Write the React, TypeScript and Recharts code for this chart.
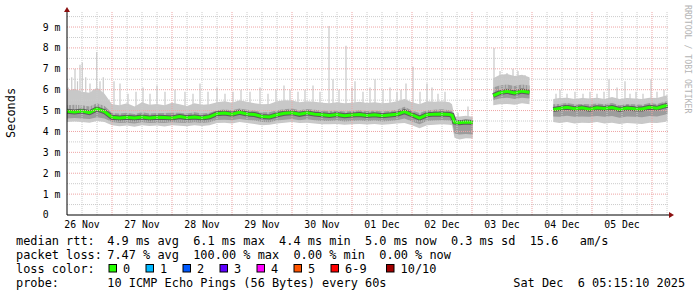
import React from 'react';
import {
  ComposedChart,
  Area,
  Line,
  XAxis,
  YAxis,
  ReferenceLine,
  ReferenceDot,
} from 'recharts';

// hours since 26 Nov 00:00
const hours = [
  6, 9, 12, 15, 18, 21,
  24, 27, 30, 33, 36, 39, 42, 45, 48, 51, 54, 57, 60, 63,
  66, 69, 72, 75, 78, 81, 84, 87, 90, 93, 96, 99, 102, 105, 108, 111,
  114, 117, 120, 123, 126, 129, 132, 135, 138, 141, 144, 147, 150, 153, 156, 159,
  160,
  161, 163, 165.5, 168.3,
  172,
  176.5, 179, 182, 185, 188, 191,
  196,
  200.5, 203, 206, 209, 212, 215, 218, 221, 224, 227, 230, 233, 236, 239, 242, 245, 246.2,
];

// median rtt in ms
const median = [
  4.97, 4.93, 4.98, 4.9, 5.08, 4.95,
  4.68, 4.65, 4.68, 4.64, 4.69, 4.65, 4.68, 4.67, 4.65, 4.71, 4.66, 4.69, 4.65, 4.7,
  4.85, 4.88, 4.83, 4.92, 4.84, 4.81, 4.72, 4.69, 4.8, 4.87, 4.9, 4.82, 4.89, 4.83, 4.8, 4.77,
  4.81, 4.75, 4.79, 4.81, 4.76, 4.8, 4.75, 4.79, 4.82, 4.95, 4.8, 4.64, 4.8, 4.83, 4.84, 4.81,
  4.78,
  4.45, 4.42, 4.45, 4.43,
  null,
  5.72, 5.85, 5.92, 5.84, 5.93, 5.88,
  null,
  5.05, 5.1, 5.16, 5.09, 5.13, 5.07, 5.13, 5.1, 5.15, 5.05, 5.12, 5.09, 5.08, 5.16, 5.11, 5.22, 5.25,
];

// outer smoke
const lightLo = [
  4.45, 4.48, 4.45, 4.42, 4.5, 4.45,
  4.3, 4.25, 4.28, 4.22, 4.3, 4.26, 4.28, 4.24, 4.3, 4.27, 4.25, 4.3, 4.26, 4.3,
  4.4, 4.42, 4.38, 4.45, 4.4, 4.36, 4.3, 4.32, 4.38, 4.42, 4.45, 4.4, 4.42, 4.38, 4.35, 4.34,
  4.36, 4.32, 4.35, 4.36, 4.33, 4.36, 4.32, 4.34, 4.38, 4.4, 4.3, 4.15, 4.3, 4.32, 4.35, 4.32,
  4.3,
  3.7, 3.62, 3.68, 3.66,
  null,
  5.25, 5.3, 5.32, 5.28, 5.35, 5.3,
  null,
  4.45, 4.4, 4.45, 4.38, 4.42, 4.4, 4.45, 4.38, 4.42, 4.36, 4.4, 4.38, 4.36, 4.42, 4.4, 4.45, 4.5,
];
const lightHi = [
  5.95, 6.05, 5.9, 5.85, 6.1, 5.8,
  5.3, 5.25, 5.35, 5.2, 5.4, 5.28, 5.32, 5.25, 5.38, 5.3, 5.22, 5.35, 5.28, 5.3,
  5.4, 5.45, 5.38, 5.5, 5.42, 5.35, 5.3, 5.32, 5.45, 5.5, 5.48, 5.4, 5.45, 5.42, 5.38, 5.35,
  5.4, 5.35, 5.38, 5.42, 5.36, 5.4, 5.35, 5.38, 5.45, 5.55, 5.4, 5.3, 5.45, 5.42, 5.45, 5.4,
  5.3,
  4.7, 4.72, 4.75, 4.7,
  null,
  6.55, 6.7, 6.75, 6.65, 6.72, 6.6,
  null,
  5.55, 5.6, 5.62, 5.55, 5.6, 5.58, 5.62, 5.55, 5.65, 5.55, 5.6, 5.58, 5.55, 5.62, 5.6, 5.7, 5.75,
];

// inner smoke
const darkLo = [
  4.62, 4.65, 4.62, 4.6, 4.68, 4.62,
  4.45, 4.4, 4.42, 4.38, 4.44, 4.4, 4.42, 4.4, 4.44, 4.42, 4.4, 4.44, 4.4, 4.44,
  4.55, 4.56, 4.54, 4.6, 4.55, 4.52, 4.45, 4.44, 4.52, 4.56, 4.6, 4.54, 4.58, 4.54, 4.5, 4.5,
  4.52, 4.48, 4.5, 4.52, 4.49, 4.52, 4.48, 4.5, 4.54, 4.62, 4.48, 4.35, 4.5, 4.52, 4.54, 4.52,
  4.48,
  3.9, 3.85, 3.88, 3.86,
  null,
  5.5, 5.58, 5.62, 5.56, 5.62, 5.58,
  null,
  4.72, 4.7, 4.75, 4.7, 4.72, 4.7, 4.74, 4.7, 4.74, 4.66, 4.72, 4.7, 4.68, 4.74, 4.72, 4.8, 4.85,
];
const darkHi = [
  5.25, 5.28, 5.25, 5.2, 5.35, 5.22,
  4.88, 4.86, 4.9, 4.84, 4.92, 4.86, 4.88, 4.88, 4.9, 4.9, 4.86, 4.92, 4.86, 4.9,
  5.02, 5.05, 5.02, 5.1, 5.04, 5.0, 4.92, 4.92, 5.02, 5.06, 5.1, 5.02, 5.08, 5.04, 5.0, 4.98,
  5.0, 4.96, 4.98, 5.02, 4.98, 5.0, 4.96, 4.98, 5.04, 5.18, 5.0, 4.88, 5.02, 5.04, 5.06, 5.02,
  4.98,
  4.55, 4.52, 4.56, 4.54,
  null,
  6.1, 6.2, 6.25, 6.18, 6.25, 6.2,
  null,
  5.3, 5.32, 5.36, 5.3, 5.32, 5.3, 5.34, 5.3, 5.36, 5.26, 5.32, 5.3, 5.28, 5.36, 5.32, 5.42, 5.45,
];

// single tall pings above the smoke
const spikeHours = [
  6.5, 7.9, 9.2, 10.2, 11.2, 12.1, 13.5, 15.2, 16.4, 17.9, 19.2, 20.5,
  24.8, 27.2, 30.4, 33.6, 36.4, 39.2, 42, 45.2, 49.2, 53.2, 56.4, 59.2, 62.4, 66, 69.2, 72.4,
  75.6, 79.2, 83.2, 86.4, 89.6, 92.8, 95.2, 98.4, 101.2, 104.4, 107.2, 110.8, 112.4, 114.8,
  117.6, 120, 121.2, 124.4, 127.2, 129.2, 132.4, 135.2, 138, 139.6, 141.6, 144.4, 147.2, 150,
  152, 154.4, 157.2,
  162.4, 166.4,
  176.8, 179.2, 180.8, 182, 184.4, 186.4, 188, 189.2, 190.4,
  201.6, 203.2, 206, 209.2, 212.4, 215.2, 218, 220.8, 222.8, 226, 229.2, 231.2, 233.6, 236.4,
  239.6, 242, 244.8,
];
const spikeTops = [
  6.1, 6.6, 7.0, 6.4, 7.2, 7.3, 6.6, 6.3, 6.0, 7.8, 6.4, 6.6,
  6.4, 6.3, 5.8, 5.9, 6.1, 5.8, 6.2, 5.9, 6.0, 5.9, 5.8, 6.3, 5.9, 6.1, 5.8, 5.9,
  6.0, 5.9, 6.1, 5.8, 6.0, 6.2, 6.0, 5.9, 6.0, 6.2, 5.9, 9.05, 6.5, 6.0,
  8.1, 6.1, 6.4, 5.9, 6.1, 6.5, 6.0, 6.1, 5.9, 6.0, 6.3, 7.1, 5.9, 6.3,
  6.1, 5.8, 5.9,
  4.9, 5.2,
  8.0, 6.9, 6.6, 6.8, 7.0, 6.9, 6.6, 6.7, 6.6,
  5.8, 6.0, 5.8, 5.9, 5.8, 5.9, 5.8, 5.9, 6.5, 6.1, 6.4, 5.8, 5.9, 5.8,
  6.5, 5.9, 6.0,
];

const dayTicks = [12, 36, 60, 84, 108, 132, 156, 180, 204, 228];
const dayLabels = ['26 Nov', '27 Nov', '28 Nov', '29 Nov', '30 Nov', '01 Dec', '02 Dec', '03 Dec', '04 Dec', '05 Dec'];
const midnights = [24, 48, 72, 96, 120, 144, 168, 192, 216, 240];
const sixHours = [
  12, 18, 30, 36, 42, 54, 60, 66, 78, 84, 90, 102, 108, 114, 126, 132, 138,
  150, 156, 162, 174, 180, 186, 198, 204, 210, 222, 228, 234, 246,
];
const yTicks = [0, 1, 2, 3, 4, 5, 6, 7, 8, 9];
const halfSteps = [0.5, 1.5, 2.5, 3.5, 4.5, 5.5, 6.5, 7.5, 8.5, 9.5];

const lossLabels = ['0', '1', '2', '3', '4', '5', '6-9', '10/10'];
const lossColors = ['#26ff00', '#00b8ff', '#0059ff', '#5e00ff', '#ff00ff', '#ff5500', '#ff0000', '#a10000'];
const lossBoxX = [108.5, 145.5, 182.5, 219.5, 256.5, 293.5, 330.5, 386];

const rttLine = '4.9 ms avg  6.1 ms max  4.4 ms min  5.0 ms now  0.3 ms sd  15.6   am/s';
const lossLine = '7.47 % avg  100.00 % max  0.00 % min  0.00 % now';
const probeLine = '10 ICMP Echo Pings (56 Bytes) every 60s';
const stamp = 'Sat Dec  6 05:15:10 2025';

const MONO = "'DejaVu Sans Mono', monospace";
const Y_MAX = 9.72;
const X_MIN = 6;
const X_MAX = 246.8;

const rows = hours.map((t, i) => ({
  t,
  med: median[i],
  light: median[i] == null ? null : [lightLo[i], lightHi[i]],
  dark: median[i] == null ? null : [darkLo[i], darkHi[i]],
}));

function spikeBase(t: number) {
  let best = 0;
  let dist = Infinity;
  rows.forEach((r, i) => {
    if (r.med == null) return;
    const d = Math.abs(r.t - t);
    if (d < dist) {
      dist = d;
      best = i;
    }
  });
  return median[best] as number;
}

const spikeData = spikeHours.flatMap((t, i) => [
  { t, v: spikeBase(t) },
  { t, v: spikeTops[i] },
  { t, v: null },
]);

const YTick = (props: any) => {
  const { x, y, payload } = props;
  const v = payload.value;
  return (
    <text x={x - 24.3} y={y} dy="0.355em" textAnchor="start" fontFamily={MONO} fontSize={9.8} fill="#000">
      {v === 0 ? '0' : `${v} m`}
    </text>
  );
};

const upArrow = (p: any) => (
  <path d={`M${p.cx - 3},${p.cy}L${p.cx + 3},${p.cy}L${p.cx},${p.cy - 5}Z`} fill="#8b1010" />
);
const rightArrow = (p: any) => (
  <path d={`M${p.cx},${p.cy - 3}L${p.cx},${p.cy + 3}L${p.cx + 5},${p.cy}Z`} fill="#8b1010" />
);

const pre = { whiteSpace: 'pre' as const };

export default function App() {
  return (
    <div style={{ position: 'relative', width: 697, height: 297, background: '#fff' }}>
      <style>{'body{margin:0}'}</style>
      <ComposedChart
        width={697}
        height={297}
        data={rows}
        margin={{ top: 12, right: 28, bottom: 0, left: 0 }}
      >
        <XAxis
          dataKey="t"
          type="number"
          domain={[X_MIN, X_MAX]}
          allowDataOverflow
          ticks={dayTicks}
          interval={0}
          tickFormatter={(v: number) => dayLabels[dayTicks.indexOf(v)]}
          tickLine={false}
          tickSize={0}
          tickMargin={6}
          height={82}
          axisLine={{ stroke: '#000' }}
          tick={{ fontFamily: MONO, fontSize: 9.8, fill: '#000' }}
        />
        <YAxis
          type="number"
          domain={[0, Y_MAX]}
          allowDataOverflow
          ticks={yTicks}
          interval={0}
          width={67}
          tickLine={false}
          tickSize={0}
          tickMargin={0}
          axisLine={{ stroke: '#000' }}
          tick={<YTick />}
        />
        <Line
          data={spikeData}
          dataKey="v"
          stroke="#c8c8c8"
          strokeWidth={1.2}
          dot={false}
          activeDot={false}
          isAnimationActive={false}
        />
        <Area
          dataKey="light"
          type="linear"
          stroke="none"
          fill="#c8c8c8"
          fillOpacity={1}
          isAnimationActive={false}
        />
        <Area
          dataKey="dark"
          type="linear"
          stroke="none"
          fill="#9c9c9c"
          fillOpacity={1}
          isAnimationActive={false}
        />
        <Line
          dataKey="med"
          stroke="#5c5c5c"
          strokeWidth={5}
          dot={false}
          activeDot={false}
          isAnimationActive={false}
        />
        <Line
          dataKey="med"
          stroke="#26ff00"
          strokeWidth={3}
          dot={false}
          activeDot={false}
          isAnimationActive={false}
        />
        {halfSteps.map((v) => (
          <ReferenceLine key={`hy${v}`} y={v} stroke="#cccccc" strokeDasharray="1 1" />
        ))}
        {yTicks.slice(1).map((v) => (
          <ReferenceLine key={`my${v}`} y={v} stroke="#eea4a4" strokeDasharray="1 1" />
        ))}
        {sixHours.map((v) => (
          <ReferenceLine key={`hx${v}`} x={v} stroke="#cccccc" strokeDasharray="1 1" />
        ))}
        {midnights.map((v) => (
          <ReferenceLine key={`mx${v}`} x={v} stroke="#eea4a4" strokeDasharray="1 1" />
        ))}
        <ReferenceDot x={X_MIN} y={Y_MAX} r={0} shape={upArrow} />
        <ReferenceDot x={X_MAX} y={0} r={0} shape={rightArrow} />
      </ComposedChart>

      <svg
        width={697}
        height={297}
        style={{ position: 'absolute', left: 0, top: 0, pointerEvents: 'none' }}
        fontFamily={MONO}
        xmlSpace="preserve"
      >
        <text transform="translate(14.5,113) rotate(-90)" textAnchor="middle" fontSize={11.9} fill="#000">
          Seconds
        </text>
        <text transform="translate(685,5) rotate(90)" fontSize={8.2} fill="#b4b4b4">
          RRDTOOL / TOBI OETIKER
        </text>

        <g fontSize={11.9} fill="#000">
          <text x={16} y={244.7} style={pre}>median rtt:</text>
          <text x={107.3} y={244.7} style={pre}>{rttLine}</text>
          <text x={16} y={258.7} style={pre}>packet loss:</text>
          <text x={107.3} y={258.7} style={pre}>{lossLine}</text>
          <text x={16} y={272.7} style={pre}>loss color:</text>
          {lossLabels.map((l, i) => (
            <g key={l}>
              <rect x={lossBoxX[i] + 0.5} y={264.5} width={7.5} height={7.5} fill={lossColors[i]} stroke="#000" strokeWidth={1} />
              <text x={lossBoxX[i] + 14.6} y={272.7} style={pre}>{l}</text>
            </g>
          ))}
          <text x={16} y={286.7} style={pre}>probe:</text>
          <text x={107.3} y={286.7} style={pre}>{probeLine}</text>
          <text x={513.3} y={286.7} style={pre}>{stamp}</text>
        </g>
      </svg>
    </div>
  );
}
